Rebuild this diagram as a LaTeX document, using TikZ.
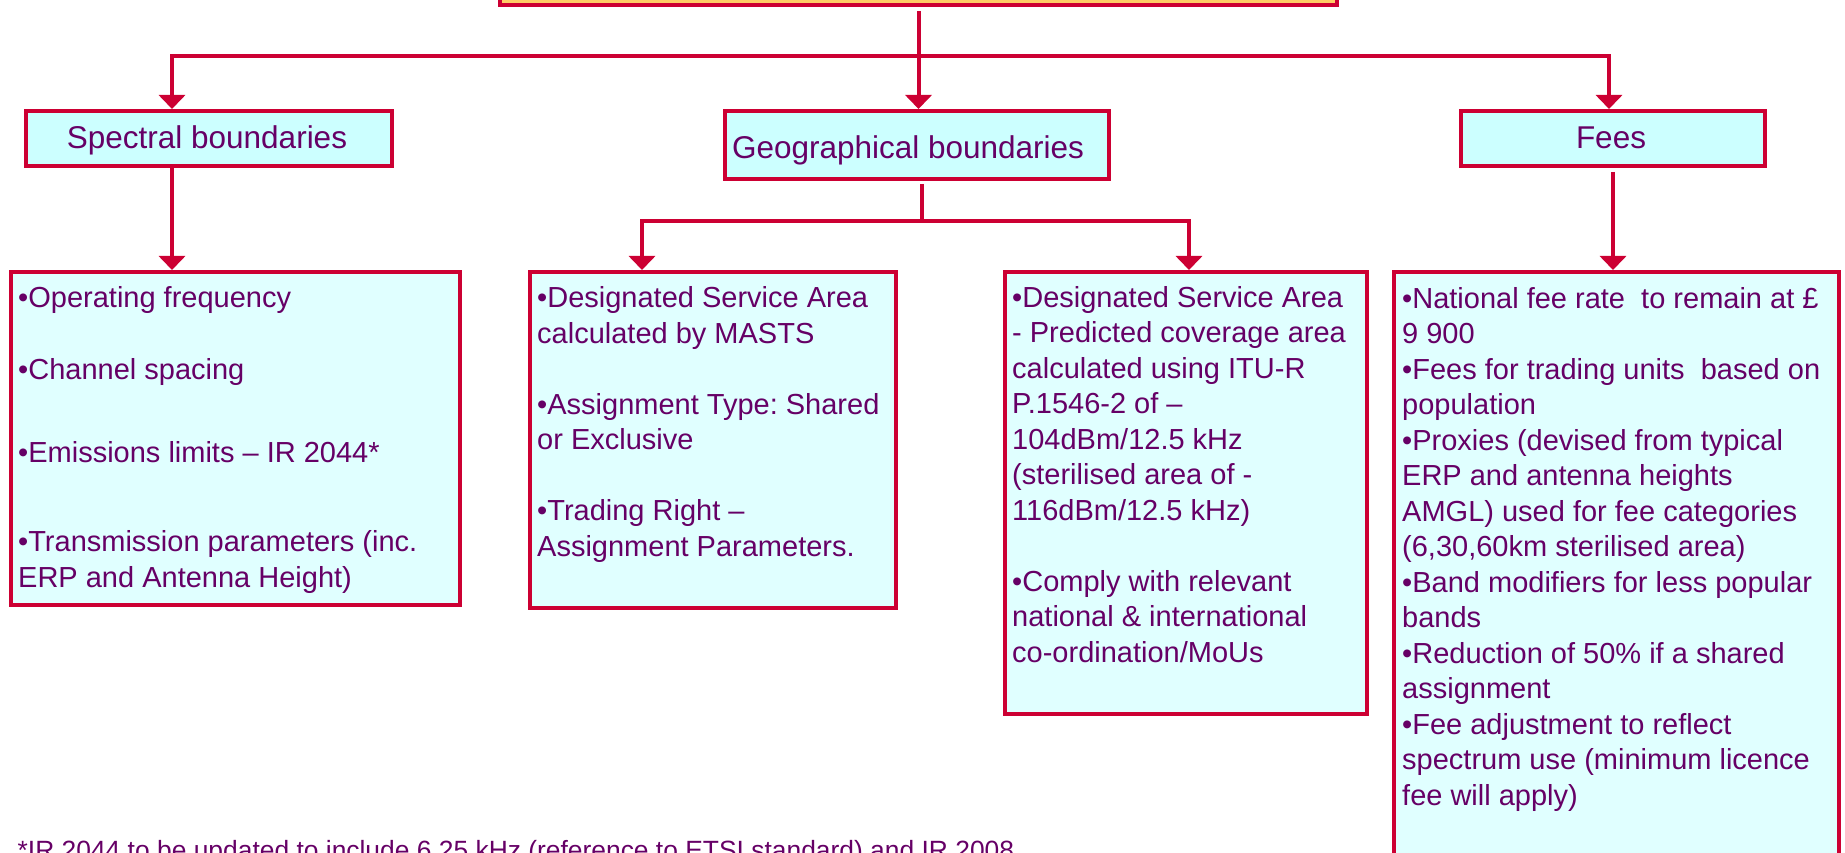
\documentclass[tikz,border=0pt]{standalone}
\usepackage{fontspec}
\setmainfont{Liberation Sans}
\usetikzlibrary{arrows.meta}
\definecolor{bred}{HTML}{CC0033}
\definecolor{hfill}{HTML}{CCFFFF}
\definecolor{dfill}{HTML}{E0FFFF}
\definecolor{txt}{HTML}{660066}
\definecolor{tfill}{HTML}{FFCC66}
\begin{document}
\frenchspacing
\begin{tikzpicture}[x=1pt,y=-1pt,
  hbox/.style={draw=bred, line width=4pt, fill=hfill, inner sep=0pt, anchor=north west},
  dbox/.style={draw=bred, line width=4pt, fill=dfill, inner sep=0pt, anchor=north west},
  conn/.style={draw=bred, line width=4pt},
  arr/.style={conn, -{Triangle[width=26pt,length=14pt]}},
  htext/.style={text=txt, font=\fontsize{31.5}{36}\selectfont, anchor=base, inner sep=0pt},
  btext/.style={text=txt, font=\fontsize{29}{35.5}\selectfont, anchor=base west, inner sep=0pt, align=left},
]
\useasboundingbox (0,0) rectangle (1845,853);
\clip (0,0) rectangle (1845,853);

% top box (mostly outside the picture)
\node[hbox, fill=tfill, minimum width=837pt, minimum height=100pt] (top) at (498,-97) {};

% second-level boxes
\node[hbox, minimum width=366pt, minimum height=55pt] (spec) at (24,109) {};
\node[htext] (spect) at (207,149) {Spectral boundaries};
\node[hbox, minimum width=384pt, minimum height=68pt] (geo) at (723,109) {};
\node[htext] (geot) at (908,159) {Geographical boundaries};
\node[hbox, minimum width=304pt, minimum height=55pt] (fees) at (1459,109) {};
\node[htext] (feest) at (1611,149) {Fees};

% detail boxes
\node[dbox, minimum width=449pt, minimum height=333pt] (b1) at (9,270) {};
\node[dbox, minimum width=366pt, minimum height=336pt] (b2) at (528,270) {};
\node[dbox, minimum width=362pt, minimum height=442pt] (b3) at (1003,270) {};
\node[dbox, minimum width=445pt, minimum height=700pt] (b4) at (1392,270) {};

% multi-line texts: anchored at the baseline of their last line
\node[btext] (t1) at (18,587) {•Operating frequency\\[37pt]•Channel spacing\\[47.5pt]•Emissions limits – IR 2044*\\[53.5pt]•Transmission parameters (inc.\\ERP and Antenna Height)};

\node[btext] (t2) at (537,556) {•Designated Service Area\\calculated by MASTS\\[35.5pt]•Assignment Type: Shared\\or Exclusive\\[35.5pt]•Trading Right –\\Assignment Parameters.};

\node[btext] (t3) at (1012,662) {•Designated Service Area\\- Predicted coverage area\\calculated using ITU-R\\P.1546-2 of –\\104dBm/12.5 kHz\\(sterilised area of -\\116dBm/12.5 kHz)\\[35.5pt]•Comply with relevant\\national \& international\\co-ordination/MoUs};

\node[btext] (t4) at (1402,805) {•National fee rate\ \ to remain at £\\9 900\\•Fees for trading units\ \ based on\\population\\•Proxies (devised from typical\\ERP and antenna heights\\AMGL) used for fee categories\\(6,30,60km sterilised area)\\•Band modifiers for less popular\\bands\\•Reduction of 50\% if a shared\\assignment\\•Fee adjustment to reflect\\spectrum use (minimum licence\\fee will apply)};

\node[anchor=base west, text=txt, font=\fontsize{26.4}{30}\selectfont, inner sep=0pt] (foot) at (17.5,859) {*IR 2044 to be updated to include 6.25 kHz (reference to ETSI standard) and IR 2008};

% connectors
\coordinate (busL) at (172,56);
\coordinate (busR) at (1609,56);
\draw[conn, line cap=rect] (busL) -- (busR);
\draw[arr] (top.south) ++(0,4) -- (top.south |- geo.north);
\draw[arr] (busL) -- (busL |- spec.north);
\draw[arr] (busR) -- (busR |- fees.north);
\draw[arr] (spec.south -| busL) -- (b1.north -| busL);
\draw[arr] (fees.south) ++(0,4) -- (fees.south |- b4.north);

\coordinate (gstem) at (922,221);
\coordinate (gL) at (642,221);
\coordinate (gR) at (1189,221);
\draw[conn] (geo.south -| gstem) ++(0,3) -- (gstem);
\draw[conn, line cap=rect] (gL) -- (gR);
\draw[arr] (gL) -- (gL |- b2.north);
\draw[arr] (gR) -- (gR |- b3.north);
\end{tikzpicture}
\end{document}
